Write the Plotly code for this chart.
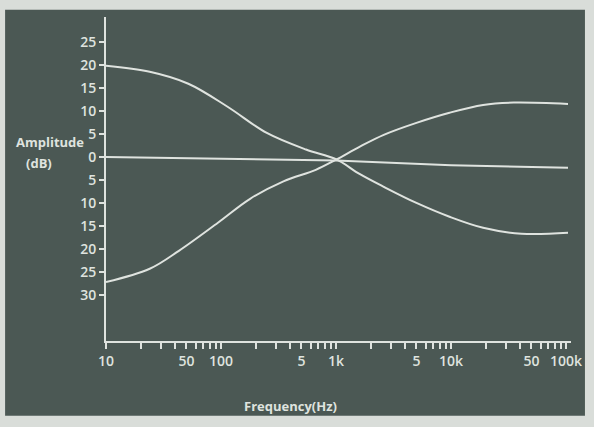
import plotly.graph_objects as go

# curve: low-frequency boost, high-frequency cut
boost_freq = [10, 24, 52, 114, 250, 548, 1000, 1600, 2600, 5000, 9700, 19000, 41000, 104000]
boost_db = [19.8, 18.5, 15.9, 10.9, 5.2, 1.6, -0.5, -3.7, -6.5, -10.0, -13.0, -15.4, -16.7, -16.5]

# low-frequency cut, high-frequency boost
cut_freq = [10, 24, 43, 94, 179, 349, 667, 1000, 1600, 2600, 5000, 9700, 19000, 35000, 104000]
cut_db = [-27.2, -24.3, -20.4, -14.3, -9.1, -5.3, -2.8, -0.6, 2.2, 4.8, 7.4, 9.6, 11.3, 11.8, 11.5]

# flat response
flat_freq = [10, 1000, 10000, 104000]
flat_db = [0.0, -0.8, -1.8, -2.35]

x_ticks = [m * 10 ** d for d in range(1, 5) for m in range(1, 10)] + [100000]
x_labels = {10: '10', 50: '50', 100: '100', 500: '5', 1000: '1k',
            5000: '5', 10000: '10k', 50000: '50', 100000: '100k'}
y_ticks = [-30, -25, -20, -15, -10, -5, 0, 5, 10, 15, 20, 25]

BG = '#4b5854'
INK = '#dfe3df'
FONT = 'Open Sans'

fig = go.Figure()
for fx, fy, shape in [(boost_freq, boost_db, 'spline'),
                      (cut_freq, cut_db, 'spline'),
                      (flat_freq, flat_db, 'linear')]:
    fig.add_trace(go.Scatter(
        x=fx, y=fy, mode='lines',
        line=dict(color=INK, width=2, shape=shape, smoothing=1.0),
        showlegend=False, hoverinfo='skip'
    ))

fig.update_xaxes(
    type='log', range=[1, 5.043],
    tickvals=x_ticks,
    ticktext=[x_labels.get(v, '') for v in x_ticks],
    ticks='outside', ticklen=6, tickwidth=1.5, tickcolor=INK,
    showline=True, linecolor=INK, linewidth=2,
    showgrid=False, zeroline=False,
    tickfont=dict(family=FONT, size=14, color=INK, weight=600)
)
fig.update_yaxes(
    range=[-40, 30.4],
    tickvals=y_ticks,
    ticktext=[str(abs(v)) for v in y_ticks],
    ticks='outside', ticklen=5, tickwidth=1.5, tickcolor=INK,
    showline=True, linecolor=INK, linewidth=2,
    showgrid=False, zeroline=False,
    tickfont=dict(family=FONT, size=14, color=INK, weight=600)
)

# dark card of the scanned photo, light paper edges around it
fig.add_shape(type='rect', xref='paper', yref='paper',
              x0=-0.217, x1=1.03, y0=-0.231, y1=1.022,
              fillcolor=BG, line=dict(width=0), layer='below')

fig.add_annotation(text='Amplitude', xref='paper', yref='paper',
                   x=-0.198, y=0.614, xanchor='left', yanchor='middle',
                   showarrow=False, font=dict(family=FONT, size=13, color=INK, weight=700))
fig.add_annotation(text='(dB)', xref='paper', yref='paper',
                   x=-0.177, y=0.549, xanchor='left', yanchor='middle',
                   showarrow=False, font=dict(family=FONT, size=13, color=INK, weight=700))
fig.add_annotation(text='Frequency(Hz)', xref='paper', yref='paper',
                   x=0.397, y=-0.20, xanchor='center', yanchor='middle',
                   showarrow=False, font=dict(family=FONT, size=13, color=INK, weight=700))

fig.update_layout(
    width=594, height=427,
    margin=dict(l=106, r=14, t=17, b=86),
    paper_bgcolor='#d9ddd9',
    plot_bgcolor=BG,
)

fig.write_html("out.html", config={'displayModeBar': False},
               post_script="document.body.style.margin = '0';")
